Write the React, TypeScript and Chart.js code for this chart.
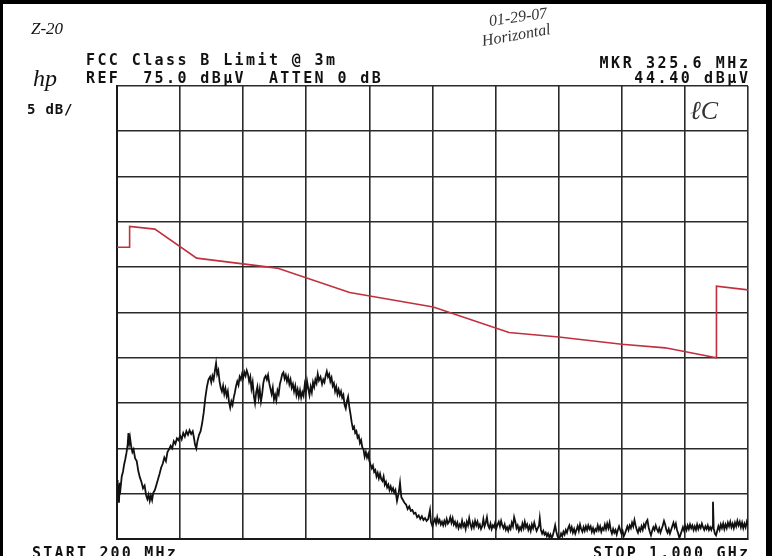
import React, { useEffect, useRef } from "react";
import { Chart, registerables } from "chart.js";

Chart.register(...registerables);

// Spectrum analyser sweep: 200 MHz .. 1000 MHz, REF 75 dBuV, 5 dB/div
const xMinMHz = 200;
const xMaxMHz = 1000;
const xStepMHz = 80;
const yMinDb = 25;
const yMaxDb = 75;
const yStepDb = 5;

// FCC Class B limit line (red)
const limitFreqMHz = [200, 216, 216, 248, 301, 403, 495, 601, 697, 760, 840, 895, 960, 960, 1000];
const limitLevelDb = [57.2, 57.2, 59.5, 59.2, 56.0, 54.9, 52.2, 50.6, 47.8, 47.3, 46.5, 46.1, 45.0, 52.9, 52.5];

// Measured trace (black): [frequency MHz, level dBuV]
const traceSamples: [number, number][] = [
  [200, 31.5], [200.8, 29.5], [201.5, 31.0], [202.5, 29.0], [203.5, 31.2], [204.5, 30.6], [206, 31.9],
  [207.5, 32.4], [209, 33.2], [210.5, 33.8], [212, 34.5], [213.5, 35.4], [214.5, 36.7], [215.5, 35.6],
  [216.5, 36.2], [218, 35.2], [219.5, 34.6], [221, 34.9], [223, 33.9], [225, 33.6], [227, 32.5],
  [229, 31.8], [231, 31.3], [233, 30.6], [235, 30.9], [237, 29.8], [238.5, 29.4], [240, 29.9],
  [241.5, 29.2], [243, 29.8], [244.5, 29.3], [246, 30.1], [248, 30.4], [250, 31.0], [252, 31.6],
  [254, 32.2], [256, 32.9], [258, 33.3], [260, 34.0], [262, 33.6], [264, 34.6], [266, 34.9],
  [268, 35.3], [270, 35.0], [272, 35.8], [274, 35.5], [276, 36.1], [278, 35.9], [280, 36.4],
  [282, 36.0], [284, 36.7], [286, 36.3], [288, 36.9], [290, 36.5], [292, 37.0], [294, 36.6],
  [296, 36.9], [297.5, 36.2], [299, 35.4], [300.5, 35.0], [302, 35.8], [304, 36.5], [306, 36.9],
  [308, 37.8], [310, 39.0], [312, 40.6], [314, 41.8], [316, 42.6], [318, 42.9], [319.5, 42.3],
  [321, 43.0], [322.5, 42.6], [324, 43.5], [325.6, 44.4], [327, 43.2], [328.5, 43.6], [330, 42.4],
  [331.5, 41.7], [333, 41.3], [334.5, 41.9], [336, 41.0], [337.5, 41.6], [339, 40.8], [340.5, 41.3],
  [342, 40.1], [343.5, 39.5], [345, 40.2], [346.5, 39.8], [348, 40.6], [349.5, 41.2], [351, 41.9],
  [352.5, 42.4], [354, 42.0], [355.5, 42.9], [357, 42.6], [358.5, 43.2], [360, 42.8], [361.5, 43.4],
  [363, 43.0], [364.5, 43.6], [366, 43.2], [367.5, 42.4], [369, 42.9], [370.5, 41.6], [372, 42.3],
  [373.5, 40.8], [375, 40.0], [376.5, 41.2], [378, 41.8], [379.5, 40.6], [381, 41.5], [382.5, 40.2],
  [384, 41.0], [385.5, 42.2], [387, 42.8], [388.5, 43.0], [390, 42.6], [391.5, 43.1], [393, 42.2],
  [394.5, 41.6], [396, 41.0], [397.5, 41.7], [399, 40.4], [400.5, 40.9], [402, 40.3], [403.5, 41.4],
  [405, 41.0], [406.5, 42.1], [408, 42.6], [409.5, 43.2], [411, 43.4], [412.5, 42.7], [414, 43.1],
  [415.5, 42.4], [417, 42.9], [418.5, 42.1], [420, 42.6], [421.5, 41.7], [423, 42.1], [424.5, 41.3],
  [426, 41.9], [427.5, 40.9], [429, 41.5], [430.5, 40.7], [432, 41.4], [433.5, 40.6], [435, 41.2],
  [436.5, 40.8], [438, 42.0], [439.5, 41.2], [441, 42.4], [442.5, 41.6], [444, 40.9], [445.5, 41.8],
  [447, 41.2], [448.5, 42.3], [450, 41.8], [451.5, 42.6], [453, 42.2], [454.5, 43.2], [456, 42.5],
  [458, 42.9], [460, 42.1], [461.5, 42.6], [463, 42.3], [464.5, 43.0], [466, 43.5], [467.5, 42.9],
  [469, 43.2], [470.5, 42.4], [472, 42.8], [473.5, 41.9], [475, 42.2], [476.5, 41.3], [478, 41.8],
  [479.5, 41.0], [481, 41.5], [482.5, 40.9], [484, 41.3], [485.5, 40.6], [487, 40.9], [488.5, 39.8],
  [490, 39.4], [491.5, 40.2], [493, 40.7], [494.5, 39.6], [496, 38.8], [497.5, 37.9], [499, 37.2],
  [500.5, 37.4], [502, 36.7], [503.5, 36.9], [505, 36.2], [506.5, 36.4], [508, 35.6], [509.5, 35.9],
  [511, 35.1], [512.5, 34.9], [514, 34.1], [515.5, 34.6], [517, 34.0], [518.5, 34.4], [520, 33.6],
  [521.5, 33.2], [523, 32.8], [524.5, 33.1], [526, 32.4], [527.5, 32.6], [529, 31.9], [530.5, 32.3],
  [532, 31.7], [533.5, 32.2], [535, 31.6], [536.5, 31.4], [538, 31.9], [539.5, 31.0], [541, 31.3],
  [542.5, 30.7], [544, 31.0], [545.5, 30.4], [547, 30.8], [548.5, 30.3], [550, 30.6], [551.5, 30.1],
  [553, 30.4], [555, 29.2], [557, 30.0], [558.8, 31.2], [560.5, 29.6], [562.5, 29.3], [564.5, 29.0],
  [566.5, 28.8], [568.5, 28.3], [570.5, 28.6], [572.5, 28.1], [574.5, 28.2], [576.5, 27.8],
  [578.5, 27.9], [580.5, 27.4], [582.5, 27.6], [584.5, 27.2], [586.5, 27.5], [588.5, 27.1],
  [590.5, 27.3], [592.5, 27.0], [594.5, 27.2], [596.8, 28.2], [598, 26.9], [600, 26.4], [601.5, 26.9],
  [603, 27.2], [604.5, 26.7], [606, 27.4], [607.5, 26.8], [609, 27.1], [610.5, 26.6], [612, 26.9],
  [613.5, 26.5], [615, 27.0], [616.5, 26.6], [618, 27.2], [619.5, 26.7], [621, 26.9], [622.5, 27.4],
  [624, 26.8], [625.5, 27.3], [627, 26.6], [628.5, 26.9], [630, 26.4], [631.5, 26.8], [633, 26.2],
  [634.5, 26.6], [636, 26.3], [637.5, 27.0], [639, 26.4], [640.5, 26.7], [642, 26.1], [643.5, 26.9],
  [645, 26.5], [646.5, 27.3], [648, 26.6], [649.5, 26.2], [651, 26.8], [652.5, 26.3], [654, 27.0],
  [655.5, 26.5], [657, 26.9], [658.5, 26.3], [660, 26.6], [661.5, 26.1], [663, 26.4], [664.5, 27.2],
  [666, 26.4], [667.5, 26.8], [669, 27.4], [670.5, 26.5], [672, 26.2], [673.5, 26.7], [675, 26.1],
  [676.5, 26.5], [678, 26.3], [679.5, 26.8], [681, 26.2], [682.5, 26.6], [684, 26.9], [685.5, 26.4],
  [687, 27.0], [688.5, 26.5], [690, 26.2], [691.5, 26.6], [693, 26.0], [694.5, 26.3], [696, 25.9],
  [697.5, 26.4], [699, 26.1], [700.5, 26.8], [702, 26.4], [703.5, 27.4], [705, 26.9], [706.5, 26.2],
  [708, 26.5], [709.5, 25.9], [711, 26.3], [712.5, 26.0], [714, 26.7], [715.5, 26.2], [717, 26.9],
  [718.5, 26.3], [720, 26.6], [721.5, 26.0], [723, 26.4], [724.5, 25.9], [726, 26.6], [727.5, 26.2],
  [729, 26.8], [730.5, 26.3], [732, 25.9], [733.5, 26.2], [735, 26.5], [736, 27.3], [737.5, 26.0],
  [739, 25.6], [740.5, 25.9], [742, 25.5], [743.5, 25.7], [745, 25.3], [746.5, 25.6], [748, 25.2],
  [749.5, 25.5], [751, 25.1], [752.5, 25.4], [754, 25.9], [755.5, 26.5], [757, 25.8], [758.5, 25.3],
  [760, 25.0], [761.5, 25.2], [763, 25.6], [764.5, 25.3], [766, 25.8], [767.5, 25.5], [769, 26.0],
  [770.5, 25.7], [772, 26.2], [773.5, 26.5], [775, 25.9], [776.5, 26.3], [778, 25.7], [779.5, 26.1],
  [781, 25.6], [782.5, 26.0], [784, 26.4], [785.5, 25.9], [787, 26.6], [788.5, 26.1], [790, 25.8],
  [791.5, 26.3], [793, 25.9], [794.5, 26.4], [796, 26.0], [797.5, 26.5], [799, 26.1], [800.5, 26.4],
  [802, 25.8], [803.5, 26.2], [805, 25.7], [806.5, 26.1], [808, 25.9], [809.5, 26.5], [811, 26.0],
  [812.5, 26.4], [814, 25.8], [815.5, 26.2], [817, 26.0], [818.5, 26.6], [820, 26.1], [821.5, 26.7],
  [823, 26.2], [824.5, 26.8], [826, 26.0], [827.5, 25.6], [829, 26.1], [830.5, 25.7], [832, 26.0],
  [833.5, 25.5], [835, 26.0], [836.5, 26.4], [838, 26.0], [839.5, 25.6], [841, 25.9], [842.5, 25.3],
  [844, 25.6], [845.5, 26.0], [847, 26.4], [848.5, 26.0], [850, 26.5], [851.5, 26.2], [853, 26.8],
  [854.5, 26.4], [856, 27.1], [857.5, 26.5], [859, 26.0], [860.5, 25.7], [862, 26.2], [863.5, 25.9],
  [865, 26.4], [866.5, 26.0], [868, 26.6], [869.5, 26.3], [871, 26.9], [872.5, 27.1], [874, 26.3],
  [875.5, 25.8], [877, 25.4], [878.5, 25.9], [880, 26.3], [881.5, 26.0], [883, 26.5], [884.5, 26.1],
  [886, 25.8], [887.5, 26.2], [889, 25.7], [890.5, 26.1], [892, 26.5], [893.5, 27.0], [895, 26.6],
  [896.5, 26.0], [898, 25.7], [899.5, 26.1], [901, 25.6], [902.5, 26.0], [904, 26.4], [905.5, 26.8],
  [907, 26.3], [908.5, 26.7], [910, 26.0], [911.5, 25.6], [913, 25.1], [914.5, 25.5], [916, 25.9],
  [917.5, 26.3], [919, 25.9], [920.5, 26.4], [922, 26.0], [923.5, 26.5], [925, 26.1], [926.5, 26.6],
  [928, 26.2], [929.5, 26.5], [931, 26.0], [932.5, 26.4], [934, 26.0], [935.5, 26.6], [937, 26.1],
  [938.5, 26.5], [940, 26.2], [941.5, 26.7], [943, 26.3], [944.5, 26.0], [946, 26.4], [947.5, 26.1],
  [949, 26.5], [950.5, 26.0], [952, 26.3], [953.5, 26.0], [955, 26.4], [955.6, 29.1], [956.5, 26.2],
  [958, 25.6], [959.5, 25.4], [961, 25.9], [962.5, 26.4], [964, 26.0], [965.5, 26.6], [967, 26.2],
  [968.5, 26.7], [970, 26.1], [971.5, 26.6], [973, 26.2], [974.5, 26.8], [976, 26.4], [977.5, 26.9],
  [979, 26.3], [980.5, 26.7], [982, 26.2], [983.5, 26.8], [985, 26.4], [986.5, 27.0], [988, 26.5],
  [989.5, 26.9], [991, 26.3], [992.5, 26.8], [994, 26.2], [995.5, 26.7], [997, 26.3], [998.5, 26.9],
  [1000, 26.5],
];

const plotFont = '"DejaVu Sans Mono", "Liberation Mono", monospace';
const handFont = '"Liberation Serif", "DejaVu Serif", serif';

function Label(props: {
  text: string;
  left?: number;
  right?: number;
  top: number;
  size?: number;
  spacing?: number;
  hand?: boolean;
  rotate?: number;
  color?: string;
}) {
  const { text, left, right, top, size = 15, spacing = 2.4, hand = false, rotate = 0, color = "#111" } = props;
  const style: React.CSSProperties = {
    position: "absolute",
    top,
    whiteSpace: "pre",
    fontFamily: hand ? handFont : plotFont,
    fontStyle: hand ? "italic" : "normal",
    fontWeight: hand ? "normal" : "bold",
    fontSize: size,
    lineHeight: `${size}px`,
    letterSpacing: hand ? 0 : spacing,
    color,
    transform: rotate ? `rotate(${rotate}deg)` : undefined,
    transformOrigin: "left center",
  };
  if (left !== undefined) style.left = left;
  if (right !== undefined) style.right = right - (hand ? 0 : spacing);
  return <div style={style}>{text}</div>;
}

export default function App() {
  const canvasRef = useRef<HTMLCanvasElement | null>(null);

  useEffect(() => {
    if (!canvasRef.current) return;
    const limitPts = limitFreqMHz.map((f, i) => ({ x: f, y: limitLevelDb[i] }));
    const tracePts = traceSamples.map(([f, v]) => ({ x: f, y: v }));
    const chart = new Chart(canvasRef.current, {
      type: "scatter",
      data: {
        datasets: [
          {
            label: "FCC Class B Limit @ 3m",
            data: limitPts,
            showLine: true,
            borderColor: "#c0303e",
            borderWidth: 1.6,
            pointRadius: 0,
            tension: 0,
          },
          {
            label: "Trace",
            data: tracePts,
            showLine: true,
            borderColor: "#111111",
            borderWidth: 1.8,
            pointRadius: 0,
            tension: 0,
          },
        ],
      },
      options: {
        responsive: false,
        animation: false,
        devicePixelRatio: 1,
        layout: { padding: { left: 117, top: 86, right: 24, bottom: 17 } },
        plugins: { legend: { display: false }, tooltip: { enabled: false }, title: { display: false } },
        scales: {
          x: {
            type: "linear",
            min: xMinMHz,
            max: xMaxMHz,
            ticks: { display: false, stepSize: xStepMHz },
            grid: { color: "#2a2a2a", lineWidth: 1.6, drawTicks: false },
            border: { display: true, color: "#1a1a1a", width: 2 },
          },
          y: {
            type: "linear",
            min: yMinDb,
            max: yMaxDb,
            ticks: { display: false, stepSize: yStepDb },
            grid: { color: "#2a2a2a", lineWidth: 1.6, drawTicks: false },
            border: { display: true, color: "#1a1a1a", width: 2 },
          },
        },
      },
    });
    return () => chart.destroy();
  }, []);

  return (
    <div
      style={{
        position: "absolute",
        left: 0,
        top: 0,
        width: 772,
        height: 556,
        background: "#ffffff",
        overflow: "hidden",
      }}
    >
      <canvas ref={canvasRef} width={772} height={556} style={{ position: "absolute", left: 0, top: 0 }} />
      {/* scanned page frame */}
      <div style={{ position: "absolute", left: 0, top: 0, width: 772, height: 4, background: "#000" }} />
      <div style={{ position: "absolute", left: 0, top: 0, width: 3, height: 556, background: "#000" }} />
      <div style={{ position: "absolute", left: 766, top: 0, width: 6, height: 556, background: "#000" }} />

      <Label text="Z-20" left={31} top={20} size={17} hand />
      <Label text="hp" left={33} top={66} size={24} hand />
      <Label text="5 dB/" left={27} top={102} size={14} spacing={0.8} />
      <Label text="FCC Class B Limit @ 3m" left={86} top={53} />
      <Label text="REF  75.0 dBμV  ATTEN 0 dB" left={86} top={71} />
      <Label text="MKR 325.6 MHz" right={24} top={56} spacing={2.6} />
      <Label text="44.40 dBμV" right={24} top={71} spacing={2.6} />
      <Label text="01-29-07" left={489} top={13} size={16} hand rotate={-8} color="#333" />
      <Label text="Horizontal" left={482} top={33} size={16} hand rotate={-10} color="#333" />
      <Label text="ℓC" left={690} top={98} size={26} hand color="#333" />
      <Label text="START 200 MHz" left={32} top={546} spacing={2.2} />
      <Label text="STOP 1.000 GHz" right={24} top={546} spacing={2.2} />
    </div>
  );
}
